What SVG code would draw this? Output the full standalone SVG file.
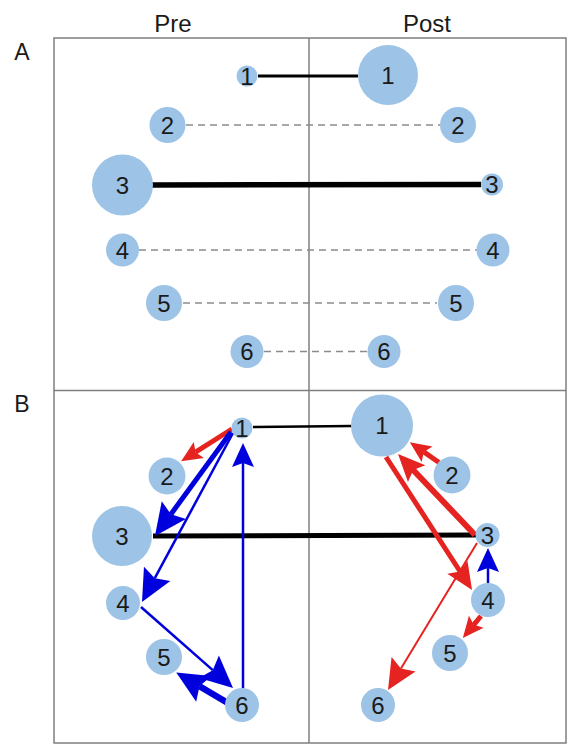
<svg xmlns="http://www.w3.org/2000/svg" width="568" height="751" viewBox="0 0 568 751">
<style>
.frame{fill:none;stroke:#7f7f7f;stroke-width:1.5}
.node circle{fill:#9dc3e6}
.node text{font-family:"Liberation Sans",Arial,sans-serif;font-size:24px;fill:#1a1a1a;text-anchor:middle}
.lbl{font-family:"Liberation Sans",Arial,sans-serif;fill:#1a1a1a;text-anchor:middle}
.dash{stroke:#8c8c8c;stroke-width:1.3;stroke-dasharray:7 5;fill:none}
.blk{stroke:#000;fill:none}
.red{stroke:#e52421;fill:none}
.blue{stroke:#0000dc;fill:none}
</style>
<defs>
<marker id="redXL" markerUnits="userSpaceOnUse" markerWidth="30" markerHeight="28" refX="5" refY="14" orient="auto" overflow="visible"><path d="M0,0 L30,14 L0,28 L5,14 z" fill="#e52421"/></marker>
<marker id="redL" markerUnits="userSpaceOnUse" markerWidth="27" markerHeight="24" refX="5" refY="12" orient="auto" overflow="visible"><path d="M0,0 L27,12 L0,24 L5,12 z" fill="#e52421"/></marker>
<marker id="redM" markerUnits="userSpaceOnUse" markerWidth="21" markerHeight="19" refX="4" refY="9.5" orient="auto" overflow="visible"><path d="M0,0 L21,9.5 L0,19 L4,9.5 z" fill="#e52421"/></marker>
<marker id="blueXL" markerUnits="userSpaceOnUse" markerWidth="32" markerHeight="30" refX="5" refY="15" orient="auto" overflow="visible"><path d="M0,0 L32,15 L0,30 L5,15 z" fill="#0000dc"/></marker>
<marker id="blueL" markerUnits="userSpaceOnUse" markerWidth="24" markerHeight="22" refX="4" refY="11" orient="auto" overflow="visible"><path d="M0,0 L24,11 L0,22 L4,11 z" fill="#0000dc"/></marker>
</defs>
<rect width="568" height="751" fill="#fff"/>
<g id="frames">
<rect class="frame" x="54" y="38" width="512" height="705"/>
<line class="frame" x1="54" y1="390.5" x2="566" y2="390.5"/>
<line class="frame" x1="309" y1="38" x2="309" y2="743"/>
</g>
<g id="labels">
<text class="lbl" x="173" y="32" font-size="24">Pre</text>
<text class="lbl" x="427" y="32" font-size="24">Post</text>
<text class="lbl" x="22" y="60" font-size="23">A</text>
<text class="lbl" x="22" y="412" font-size="23">B</text>
</g>
<g id="connectors">
<!-- Panel A -->
<line class="blk" x1="258" y1="76" x2="358" y2="76" stroke-width="3"/>
<line class="dash" x1="186" y1="125" x2="440" y2="125"/>
<line class="blk" x1="152" y1="185" x2="481" y2="184.5" stroke-width="5.5"/>
<line class="dash" x1="139" y1="250" x2="477" y2="250"/>
<line class="dash" x1="183" y1="303" x2="437" y2="303"/>
<line class="dash" x1="264" y1="351.5" x2="368" y2="351.5"/>
<!-- Panel B black -->
<line class="blk" x1="253" y1="427" x2="352" y2="426" stroke-width="2.5"/>
<line class="blk" x1="153" y1="536" x2="476" y2="535" stroke-width="5"/>
<!-- Panel B pre arrows -->
<line class="red" x1="232" y1="429" x2="195.5" y2="452.2" stroke-width="5" marker-end="url(#redM)"/>
<line class="blue" x1="231" y1="432" x2="170.9" y2="514.2" stroke-width="5" marker-end="url(#blueXL)"/>
<line class="blue" x1="233" y1="433" x2="154.8" y2="578.2" stroke-width="2.5" marker-end="url(#blueXL)"/>
<line class="blue" x1="243" y1="688" x2="243" y2="463" stroke-width="2.5" marker-end="url(#blueL)"/>
<line class="blue" x1="141" y1="607" x2="212.75" y2="670.15" stroke-width="2.5" marker-end="url(#blueXL)"/>
<line class="blue" x1="227" y1="702.5" x2="199.5" y2="686.3" stroke-width="6.5" marker-end="url(#blueXL)"/>
<!-- Panel B post arrows -->
<line class="red" x1="439" y1="462.5" x2="423.8" y2="451.9" stroke-width="5" marker-end="url(#redM)"/>
<line class="red" x1="475" y1="535" x2="413.2" y2="470" stroke-width="6" marker-end="url(#redL)"/>
<line class="red" x1="386" y1="457" x2="460.1" y2="571.5" stroke-width="5" marker-end="url(#redL)"/>
<line class="red" x1="477" y1="543" x2="400.95" y2="668.6" stroke-width="2" marker-end="url(#redXL)"/>
<line class="blue" x1="488" y1="583" x2="488" y2="568" stroke-width="2.5" marker-end="url(#blueL)"/>
<line class="red" x1="481" y1="616" x2="473.7" y2="624.8" stroke-width="5" marker-end="url(#redM)"/>
</g>
<!-- Panel A nodes -->
<g id="A-pre-1" class="node"><circle cx="247" cy="76" r="10.5"/><text x="247" y="84.5">1</text></g>
<g id="A-post-1" class="node"><circle cx="388" cy="75" r="30"/><text x="388" y="83.5">1</text></g>
<g id="A-pre-2" class="node"><circle cx="167.5" cy="125" r="18"/><text x="167.5" y="133.5">2</text></g>
<g id="A-post-2" class="node"><circle cx="458" cy="125" r="18"/><text x="458" y="133.5">2</text></g>
<g id="A-pre-3" class="node"><circle cx="122.5" cy="185" r="30.5"/><text x="122.5" y="193.5">3</text></g>
<g id="A-post-3" class="node"><circle cx="492" cy="184.5" r="11"/><text x="492" y="193">3</text></g>
<g id="A-pre-4" class="node"><circle cx="122.5" cy="250" r="16.5"/><text x="122.5" y="258.5">4</text></g>
<g id="A-post-4" class="node"><circle cx="493" cy="250" r="16.5"/><text x="493" y="258.5">4</text></g>
<g id="A-pre-5" class="node"><circle cx="164" cy="303" r="18"/><text x="164" y="311.5">5</text></g>
<g id="A-post-5" class="node"><circle cx="456" cy="303" r="18"/><text x="456" y="311.5">5</text></g>
<g id="A-pre-6" class="node"><circle cx="247" cy="351.5" r="16.5"/><text x="247" y="360">6</text></g>
<g id="A-post-6" class="node"><circle cx="384" cy="351.5" r="16.5"/><text x="384" y="360">6</text></g>
<!-- Panel B nodes -->
<g id="B-pre-1" class="node"><circle cx="242" cy="428" r="10.5"/><text x="242" y="436.5">1</text></g>
<g id="B-post-1" class="node"><circle cx="382" cy="425.5" r="31"/><text x="382" y="434">1</text></g>
<g id="B-pre-2" class="node"><circle cx="167" cy="476" r="18.5"/><text x="167" y="484.5">2</text></g>
<g id="B-post-2" class="node"><circle cx="452" cy="475" r="18.5"/><text x="452" y="483.5">2</text></g>
<g id="B-pre-3" class="node"><circle cx="122" cy="536" r="30"/><text x="122" y="544.5">3</text></g>
<g id="B-post-3" class="node"><circle cx="487.5" cy="535" r="12"/><text x="487.5" y="543.5">3</text></g>
<g id="B-pre-4" class="node"><circle cx="123" cy="603" r="17"/><text x="123" y="611.5">4</text></g>
<g id="B-post-4" class="node"><circle cx="488" cy="600" r="17"/><text x="488" y="608.5">4</text></g>
<g id="B-pre-5" class="node"><circle cx="164" cy="657" r="18"/><text x="164" y="665.5">5</text></g>
<g id="B-post-5" class="node"><circle cx="450" cy="653" r="18"/><text x="450" y="661.5">5</text></g>
<g id="B-pre-6" class="node"><circle cx="242" cy="705" r="17"/><text x="242" y="713.5">6</text></g>
<g id="B-post-6" class="node"><circle cx="378" cy="705" r="17"/><text x="378" y="713.5">6</text></g>
</svg>
